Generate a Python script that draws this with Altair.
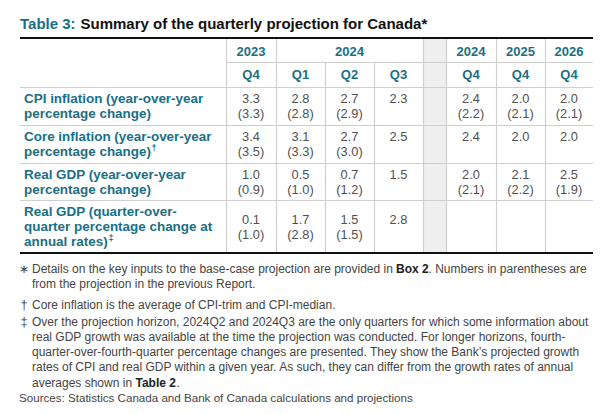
import altair as alt
import pandas as pd

# ---------------- data ----------------
title_prefix = "Table 3:"
title_main = "Summary of the quarterly projection for Canada*"

header_years = ["2023", "2024", "2024", "2025", "2026"]
header_year_cols = [[0], [1, 2, 3], [4], [5], [6]]
header_quarters = ["Q4", "Q1", "Q2", "Q3", "Q4", "Q4", "Q4"]

row_label_lines = [
    ["CPI inflation (year-over-year", "percentage change)"],
    ["Core inflation (year-over-year", "percentage change)"],
    ["Real GDP (year-over-year", "percentage change)"],
    ["Real GDP (quarter-over-", "quarter percentage change at", "annual rates)"],
]
row_label_marks = ["", "\u2020", "", "\u2021"]

cpi_now = [3.3, 2.8, 2.7, 2.3, 2.4, 2.0, 2.0]
cpi_prev = [3.3, 2.8, 2.9, None, 2.2, 2.1, 2.1]
core_now = [3.4, 3.1, 2.7, 2.5, 2.4, 2.0, 2.0]
core_prev = [3.5, 3.3, 3.0, None, None, None, None]
gdp_yoy_now = [1.0, 0.5, 0.7, 1.5, 2.0, 2.1, 2.5]
gdp_yoy_prev = [0.9, 1.0, 1.2, None, 2.1, 2.2, 1.9]
gdp_qoq_now = [0.1, 1.7, 1.5, 2.8, None, None, None]
gdp_qoq_prev = [1.0, 2.8, 1.5, None, None, None, None]
values_now = [cpi_now, core_now, gdp_yoy_now, gdp_qoq_now]
values_prev = [cpi_prev, core_prev, gdp_yoy_prev, gdp_qoq_prev]

fn_markers = ["\u2217", "\u2020", "\u2021"]
fn_lines = [
    [
        [("Details on the key inputs to the base-case projection are provided in", False),
         ("Box 2", True), (". Numbers in parentheses are", False)],
        [("from the projection in the previous Report.", False)],
    ],
    [
        [("Core inflation is the average of CPI-trim and CPI-median.", False)],
    ],
    [
        [("Over the projection horizon, 2024Q2 and 2024Q3 are the only quarters for which some information about", False)],
        [("real GDP growth was available at the time the projection was conducted. For longer horizons, fourth-", False)],
        [("quarter-over-fourth-quarter percentage changes are presented. They show the Bank\u2019s projected growth", False)],
        [("rates of CPI and real GDP within a given year. As such, they can differ from the growth rates of annual", False)],
        [("averages shown in", False), ("Table 2", True), (".", False)],
    ],
]
source_note = "Sources: Statistics Canada and Bank of Canada calculations and projections"

# ---------------- layout ----------------
PAGE = 8
W, H = 596, 398
FONT = "Liberation Sans"
TEAL = "#1a6f85"
VAL_GRAY = "#505050"
NOTE_GRAY = "#444444"
LINE_GRAY = "#cfcfcf"
BAND_GRAY = "#efefef"

X_L, X_R = 20, 593
col_left = [226, 276, 325, 374, 446, 496, 545]
col_right = [276, 325, 374, 423, 496, 545, 593]
band = (423, 446)
col_center = [(a + b) / 2 for a, b in zip(col_left, col_right)]

Y_TOP, Y_YEARSEP, Y_HEAD, Y_BOTTOM = 38, 62.5, 87.5, 253
row_top = [87.5, 125.5, 163.5, 200.5]
Y_YEARS, Y_QUARTERS = 51.5, 75
LABEL_X = 24
LINE_H = 14.8
FIRST_OFF = 11.8

fn_y = [[269, 283.5], [305], [321.5, 336.8, 352, 367.2, 382.5]]
SOURCE_Y = 399
seg_x = {(0, 0): [32, 396, 428.5], (2, 4): [32, 135.5, 176.5]}
sup_pos = {1: (151.5, 148), 3: (108.5, 238)}

xs = alt.Scale(domain=[PAGE, PAGE + W], range=[0, W], nice=False, zero=False)
ys = alt.Scale(domain=[PAGE, PAGE + H], range=[0, H], nice=False, zero=False)
X = lambda f="x": alt.X(f"{f}:Q", scale=xs, axis=None)
Y = lambda f="y": alt.Y(f"{f}:Q", scale=ys, axis=None)

# ---------------- build tables ----------------
hrules = [dict(x=X_L, x2=X_R, y=y) for y in [Y_HEAD] + row_top[1:]]
hrules.append(dict(x=col_left[0], x2=X_R, y=Y_YEARSEP))
full_v = [col_left[0], col_left[1], band[0], band[1], col_left[5], col_left[6]]
vrules = [dict(x=v + 0.5, y=Y_TOP, y2=Y_BOTTOM) for v in full_v]
vrules += [dict(x=v + 0.5, y=Y_YEARSEP, y2=Y_BOTTOM) for v in [col_left[2], col_left[3]]]
thick = [dict(x=X_L, x2=X_R, y=Y_TOP), dict(x=X_L, x2=X_R, y=Y_BOTTOM)]

heads = []
for yr, cols in zip(header_years, header_year_cols):
    heads.append(dict(x=(col_left[cols[0]] + col_right[cols[-1]]) / 2, y=Y_YEARS, t=yr))
for i, q in enumerate(header_quarters):
    heads.append(dict(x=col_center[i], y=Y_QUARTERS, t=q))

labels, sups, vals = [], [], []
for r, lines in enumerate(row_label_lines):
    ly = [row_top[r] + FIRST_OFF + k * LINE_H for k in range(len(lines))]
    for k, t in enumerate(lines):
        labels.append(dict(x=LABEL_X, y=ly[k], t=t))
    if row_label_marks[r]:
        sx, sy = sup_pos[r]
        sups.append(dict(x=sx, y=sy, t=row_label_marks[r]))
    mid = (ly[0] + ly[-1]) / 2
    vy0 = mid - LINE_H / 2
    for c in range(7):
        now, prev = values_now[r][c], values_prev[r][c]
        if now is not None:
            vals.append(dict(x=col_center[c], y=vy0, t=f"{now:.1f}"))
        if prev is not None:
            vals.append(dict(x=col_center[c], y=vy0 + LINE_H, t=f"({prev:.1f})"))

marks, fn_reg, fn_bold = [], [], []
for i, note in enumerate(fn_lines):
    marks.append(dict(x=24, y=fn_y[i][0], t=fn_markers[i]))
    for j, line in enumerate(note):
        xpos = seg_x.get((i, j), [32])
        for k, (t, b) in enumerate(line):
            d = dict(x=xpos[k], y=fn_y[i][j], t=t)
            (fn_bold if b else fn_reg).append(d)

def text_layer(rows, align, size, color, weight="normal"):
    return alt.Chart(pd.DataFrame(rows)).mark_text(
        align=align, baseline="middle", font=FONT, fontSize=size,
        fontWeight=weight, color=color
    ).encode(x=X(), y=Y(), text="t:N")

band_layer = alt.Chart(pd.DataFrame([dict(x=band[0], x2=band[1], y=Y_TOP, y2=Y_BOTTOM)])).mark_rect(
    color=BAND_GRAY).encode(x=X(), x2="x2:Q", y=Y(), y2="y2:Q")
h_layer = alt.Chart(pd.DataFrame(hrules)).mark_rule(color=LINE_GRAY, strokeWidth=1.2).encode(
    x=X(), x2="x2:Q", y=Y())
v_layer = alt.Chart(pd.DataFrame(vrules)).mark_rule(color=LINE_GRAY, strokeWidth=1.2).encode(
    x=X(), y=Y(), y2="y2:Q")
t_layer = alt.Chart(pd.DataFrame(thick)).mark_rule(color="#111111", strokeWidth=2).encode(
    x=X(), x2="x2:Q", y=Y())

title_layer = text_layer([dict(x=20, y=24, t=title_prefix)], "left", 15, TEAL, "bold")
title2_layer = text_layer([dict(x=80.5, y=24, t=title_main)], "left", 15, "#111111", "bold")

chart = alt.layer(
    band_layer, h_layer, v_layer, t_layer,
    title_layer, title2_layer,
    text_layer(heads, "center", 13, TEAL, "bold"),
    text_layer(labels, "left", 13.45, TEAL, "bold"),
    text_layer(sups, "left", 9, TEAL, "bold"),
    text_layer(vals, "center", 12.8, VAL_GRAY),
    text_layer(marks, "center", 12, NOTE_GRAY),
    text_layer(fn_reg, "left", 12, NOTE_GRAY),
    text_layer(fn_bold, "left", 12, "#222222", "bold"),
    text_layer([dict(x=19, y=SOURCE_Y, t=source_note)], "left", 11.6, NOTE_GRAY),
).properties(
    width=W, height=H, padding=0, autosize=alt.AutoSizeParams(type="none")
).configure_view(stroke=None)

chart.save("out.html", embed_options={"renderer": "svg", "actions": False})
